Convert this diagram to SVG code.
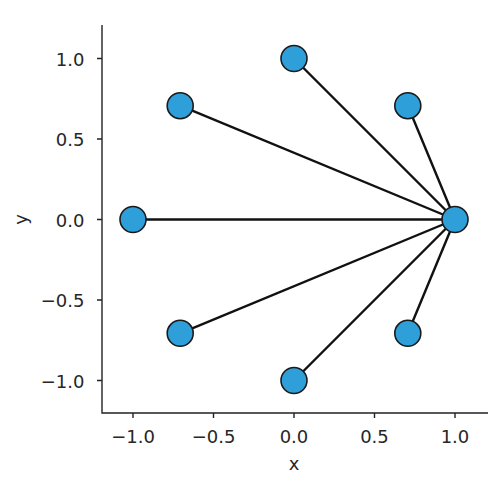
<svg xmlns="http://www.w3.org/2000/svg" width="500" height="500" viewBox="0 0 500 500">
<style>
.edge{stroke:#111;stroke-width:2.4;fill:none}
.node{fill:#2f9fd9;stroke:#1a1a1a;stroke-width:1.6}
.axis{stroke:#222;stroke-width:1.4;fill:none}
.tl{font-family:"DejaVu Sans",sans-serif;font-size:18px;fill:#262626}
</style>
<rect width="500" height="500" fill="#fff"/>
<g id="axes">
<path class="axis" d="M102 25V413H488"/>
<path class="axis" d="M97 58.5H102M97 139H102M97 219.5H102M97 300H102M97 380.5H102"/>
<path class="axis" d="M133 413V418M213.5 413V418M294 413V418M374.5 413V418M455 413V418"/>
<g class="tl" text-anchor="end">
<text x="84.5" y="65.5">1.0</text>
<text x="84.5" y="146">0.5</text>
<text x="84.5" y="226.5">0.0</text>
<text x="84.5" y="307">−0.5</text>
<text x="84.5" y="387.5">−1.0</text>
</g>
<g class="tl" text-anchor="middle">
<text x="133" y="443">−1.0</text>
<text x="213.5" y="443">−0.5</text>
<text x="294" y="443">0.0</text>
<text x="374.5" y="443">0.5</text>
<text x="455" y="443">1.0</text>
<text x="294" y="470">x</text>
<text transform="translate(27 219.5) rotate(-90)">y</text>
</g>
</g>
<g id="edges">
<line class="edge" x1="455" y1="219.5" x2="407.8" y2="105.7"/>
<line class="edge" x1="455" y1="219.5" x2="294" y2="58.5"/>
<line class="edge" x1="455" y1="219.5" x2="180.2" y2="105.7"/>
<line class="edge" x1="455" y1="219.5" x2="133" y2="219.5"/>
<line class="edge" x1="455" y1="219.5" x2="180.2" y2="333.3"/>
<line class="edge" x1="455" y1="219.5" x2="294" y2="380.5"/>
<line class="edge" x1="455" y1="219.5" x2="407.8" y2="333.3"/>
</g>
<g id="n0"><circle class="node" cx="455" cy="219.5" r="13"/></g>
<g id="n1"><circle class="node" cx="407.8" cy="105.7" r="13"/></g>
<g id="n2"><circle class="node" cx="294" cy="58.5" r="13"/></g>
<g id="n3"><circle class="node" cx="180.2" cy="105.7" r="13"/></g>
<g id="n4"><circle class="node" cx="133" cy="219.5" r="13"/></g>
<g id="n5"><circle class="node" cx="180.2" cy="333.3" r="13"/></g>
<g id="n6"><circle class="node" cx="294" cy="380.5" r="13"/></g>
<g id="n7"><circle class="node" cx="407.8" cy="333.3" r="13"/></g>
</svg>
